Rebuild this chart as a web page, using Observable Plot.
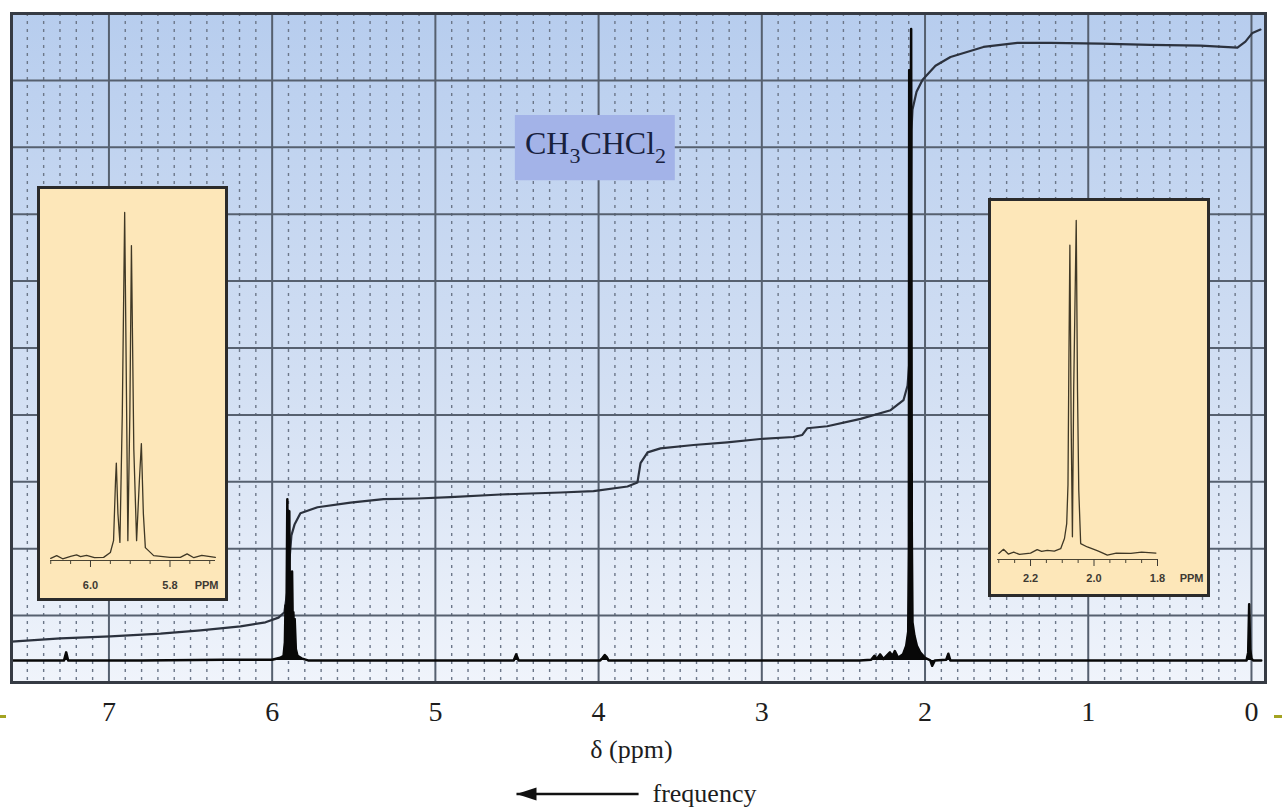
<!DOCTYPE html>
<html><head><meta charset="utf-8">
<script src="https://cdn.jsdelivr.net/npm/d3@7"></script>
<script src="https://cdn.jsdelivr.net/npm/@observablehq/plot@0.6"></script>
<style>
html,body{margin:0;padding:0;background:#ffffff;}
#wrap{position:relative;width:1282px;height:812px;overflow:hidden;}
#wrap > svg{position:absolute;left:0;top:0;}
.inset{position:absolute;background:#fde7b9;border:3px solid #2b2b2b;box-sizing:content-box;}
.inset svg{display:block;}
.olive{position:absolute;height:3px;background:#a3a321;}
</style></head><body><div id="wrap"></div>
<script>
// ---------- DATA ----------
const ppmTicks = [7, 6, 5, 4, 3, 2, 1, 0];
const gridY = [1, 2, 3, 4, 5, 6, 7, 8, 9];

// main 1H spectrum (δ ppm, intensity in grid units)
const spectrumBaseline = 0.33;
const spectrumPpm = [7.597, 7.40, 7.275, 7.262, 7.25, 6.80, 6.30, 6.00, 5.95, 5.93, 5.922, 5.918, 5.915, 5.912, 5.907, 5.903, 5.899, 5.895, 5.891, 5.887, 5.882, 5.878, 5.874, 5.870, 5.866, 5.862, 5.855, 5.845, 5.82, 5.78, 5.70, 4.52, 4.505, 4.49, 3.99, 3.975, 3.962, 3.95, 3.94, 2.40, 2.33, 2.31, 2.295, 2.275, 2.255, 2.215, 2.20, 2.185, 2.165, 2.135, 2.115, 2.103, 2.099, 2.097, 2.093, 2.089, 2.085, 2.081, 2.077, 2.065, 2.05, 2.03, 2.00, 1.968, 1.956, 1.94, 1.87, 1.857, 1.845, 1.00, 0.30, 0.03, 0.02, 0.014, 0.008, 0.0, -0.01, -0.06];
const spectrumIntensity = [0.33, 0.33, 0.33, 0.45, 0.33, 0.33, 0.34, 0.34, 0.37, 0.40, 0.6, 1.15, 0.75, 1.0, 2.74, 1.1, 1.3, 2.56, 1.1, 1.2, 1.0, 1.66, 0.9, 1.05, 0.7, 0.95, 0.5, 0.40, 0.36, 0.33, 0.33, 0.33, 0.42, 0.33, 0.33, 0.37, 0.41, 0.38, 0.33, 0.33, 0.34, 0.40, 0.35, 0.42, 0.35, 0.45, 0.39, 0.47, 0.37, 0.42, 0.55, 0.76, 2.0, 9.15, 6.0, 8.0, 9.77, 2.2, 0.9, 0.7, 0.55, 0.45, 0.37, 0.33, 0.25, 0.33, 0.34, 0.43, 0.33, 0.33, 0.33, 0.33, 0.45, 1.17, 0.5, 0.36, 0.33, 0.33];

// integration trace
const integralPpm = [7.597, 7.297, 6.991, 6.684, 6.439, 6.194, 6.041, 5.961, 5.925, 5.906, 5.894, 5.882, 5.863, 5.827, 5.722, 5.520, 5.318, 5.110, 4.908, 4.601, 4.233, 4.031, 3.823, 3.762, 3.743, 3.700, 3.621, 3.418, 3.212, 3.010, 2.807, 2.752, 2.722, 2.599, 2.395, 2.211, 2.132, 2.107, 2.095, 2.089, 2.083, 2.077, 2.052, 2.015, 1.936, 1.844, 1.642, 1.434, 1.231, 0.925, 0.619, 0.312, 0.086, 0.037, -0.006, -0.055];
const integralHeight = [0.61, 0.66, 0.69, 0.73, 0.78, 0.84, 0.90, 0.97, 1.05, 1.38, 1.83, 2.20, 2.36, 2.53, 2.62, 2.69, 2.74, 2.75, 2.77, 2.81, 2.84, 2.86, 2.93, 2.99, 3.28, 3.44, 3.50, 3.55, 3.59, 3.64, 3.67, 3.70, 3.80, 3.83, 3.94, 4.07, 4.22, 4.44, 4.82, 6.47, 8.26, 8.56, 8.83, 9.01, 9.22, 9.35, 9.50, 9.56, 9.56, 9.55, 9.53, 9.52, 9.49, 9.58, 9.71, 9.76];

// expanded multiplets (inset panels)
const insetAPpm = [6.100, 6.085, 6.07, 6.05, 6.035, 6.025, 6.01, 5.99, 5.967, 5.95, 5.942, 5.937, 5.935, 5.931, 5.926, 5.920, 5.914, 5.909, 5.906, 5.901, 5.897, 5.891, 5.884, 5.877, 5.872, 5.867, 5.862, 5.841, 5.80, 5.774, 5.757, 5.74, 5.72, 5.686];
const insetAIntensity = [0.6, 1.4, 0.5, 1.2, 1.6, 1.1, 1.5, 0.8, 0.9, 2.3, 5.7, 23, 28, 13.5, 5.2, 42, 100, 42, 5.7, 42, 90.5, 32, 5.7, 23, 33.6, 13.5, 3.7, 1.4, 0.9, 0.9, 1.9, 0.8, 1.5, 0.9];
const insetATicks = [6.0, 5.8];
const insetAMinor = [6.10, 6.05, 5.95, 5.90, 5.85, 5.75, 5.70];

const insetBPpm = [2.300, 2.285, 2.27, 2.253, 2.235, 2.20, 2.179, 2.165, 2.147, 2.125, 2.105, 2.093, 2.086, 2.082, 2.079, 2.076, 2.072, 2.068, 2.064, 2.056, 2.052, 2.048, 2.042, 2.021, 1.99, 1.979, 1.958, 1.93, 1.884, 1.85, 1.805];
const insetBIntensity = [1.8, 3.0, 1.6, 2.2, 1.5, 1.9, 2.9, 2.4, 2.7, 2.5, 3.2, 6.2, 10.6, 22, 60, 92.7, 40, 6.7, 50, 100, 50, 20.4, 4.7, 3.7, 2.6, 2.2, 1.3, 1.9, 1.8, 2.2, 1.9];
const insetBTicks = [2.2, 2.0, 1.8];
const insetBMinor = [2.30, 2.25, 2.15, 2.10, 2.05, 1.95, 1.90, 1.85];

// annotations
const chemLabel = [{text: "CH3CHCl2", x: 4.019, y: 8.06}];
const chemBox = [{x1: 4.51, x2: 3.53, y1: 7.50, y2: 8.475}];
const axisTitle = ["δ (ppm)"];
const directionLabel = ["frequency"];
const freqArrow = [{x1: 3.755, x2: 4.503, y: -1.665}];

// ---------- BUILD ----------
const serif = '"Liberation Serif", "Times New Roman", serif';
const sans = '"Liberation Sans", Arial, sans-serif';
const spectrum = spectrumPpm.map((p, i) => ({ppm: p, v: spectrumIntensity[i]}));
const integral = integralPpm.map((p, i) => ({ppm: p, v: integralHeight[i]}));
const insetA = insetAPpm.map((p, i) => ({ppm: p, v: insetAIntensity[i]}));
const insetB = insetBPpm.map((p, i) => ({ppm: p, v: insetBIntensity[i]}));
const minorTicks = d3.range(-0.05, 7.6, 0.1).map(d => Math.round(d * 10) / 10).filter(d => d > -0.08 && d < 7.59 && Math.abs(d - Math.round(d)) > 1e-6);

const arrowHead = {draw(ctx) { ctx.moveTo(0, 0); ctx.lineTo(20, -6.5); ctx.lineTo(20, 6.5); ctx.closePath(); }};

const main = Plot.plot({
  width: 1282, height: 812,
  marginLeft: 11, marginRight: 17, marginTop: 13, marginBottom: 130,
  style: {background: "transparent", fontFamily: serif, overflow: "visible"},
  x: {domain: [7.597, -0.086], label: null},
  y: {domain: [0, 10], axis: null},
  marks: [
    Plot.frame({fill: "url(#bgGrad)", stroke: "none"}),
    Plot.ruleX(minorTicks, {stroke: "#6c7789", strokeWidth: 1.4, strokeDasharray: "3,5"}),
    Plot.ruleX(ppmTicks, {stroke: "#56606f", strokeWidth: 2}),
    Plot.ruleY(gridY, {stroke: "#56606f", strokeWidth: 2}),
    Plot.rect(chemBox, {x1: "x1", x2: "x2", y1: "y1", y2: "y2", fill: "#a3b3e8"}),
    Plot.text(chemLabel, {x: "x", y: "y", text: "text", fontSize: 32, fill: "#18213e", fontFamily: serif}),
    Plot.line(integral, {x: "ppm", y: "v", stroke: "#2c323e", strokeWidth: 2.2}),
    Plot.areaY(spectrum, {x: "ppm", y1: spectrumBaseline, y2: "v", fill: "#080808"}),
    Plot.line(spectrum, {x: "ppm", y: "v", stroke: "#080808", strokeWidth: 2.5}),
    Plot.frame({stroke: "#363b44", strokeWidth: 3}),
    Plot.axisX(ppmTicks, {tickSize: 0, tickPadding: 19, fontSize: 28, color: "#1d1d1d", tickFormat: d => String(d), label: null}),
    Plot.text(axisTitle, {frameAnchor: "bottom", lineAnchor: "middle", text: d => d, dx: -7, dy: 66.7, fontSize: 26, fill: "#1d1d1d"}),
    Plot.text(directionLabel, {frameAnchor: "bottom", lineAnchor: "middle", text: d => d, textAnchor: "start", dx: 14, dy: 110.7, fontSize: 26, fill: "#1d1d1d"}),
    Plot.link(freqArrow, {x1: "x1", x2: "x2", y1: "y", y2: "y", stroke: "#111", strokeWidth: 2.5}),
    Plot.dot(freqArrow, {x: "x2", y: "y", symbol: arrowHead, fill: "#111", stroke: "none", r: 6})
  ]
});

d3.select(main).insert("defs", ":first-child").html(
  '<linearGradient id="bgGrad" x1="0" y1="0" x2="0" y2="1">' +
  '<stop offset="0" stop-color="#b7cdee"/>' +
  '<stop offset="0.55" stop-color="#d2dff3"/>' +
  '<stop offset="1" stop-color="#f0f4fb"/>' +
  '</linearGradient>');

// subscripts in the formula label
d3.select(main).selectAll("text").filter(function() { return this.textContent === "CH3CHCl2"; }).each(function() {
  const t = d3.select(this);
  t.text(null);
  const parts = [["CH", 0], ["3", 1], ["CHCl", 0], ["2", 1]];
  let shifted = false;
  parts.forEach(([s, sub]) => {
    const ts = t.append("tspan").text(s);
    if (sub) { ts.attr("dy", 9).attr("font-size", 22); shifted = true; }
    else if (shifted) { ts.attr("dy", -9); shifted = false; }
  });
});

const wrap = document.getElementById("wrap");
wrap.appendChild(main);

function makeInset(data, domain, ticks, minor, opts) {
  const col = "#4a4433";
  return Plot.plot({
    width: opts.w, height: opts.h,
    marginLeft: opts.ml, marginRight: opts.mr, marginTop: opts.mt, marginBottom: opts.mb,
    style: {background: "transparent", fontFamily: sans, overflow: "visible"},
    x: {domain, label: null},
    y: {domain: [0, 100], axis: null},
    marks: [
      Plot.ruleY([0], {stroke: col, strokeWidth: 1}),
      Plot.axisX(minor, {tickSize: 4, tickFormat: () => "", color: col, label: null}),
      Plot.axisX(ticks, {tickSize: 7, tickPadding: opts.pad, tickFormat: ".1f", fontSize: 11, fontWeight: "bold", color: "#3d3a33", label: null}),
      Plot.text(["PPM"], {frameAnchor: "bottom-right", lineAnchor: "middle", text: d => d, textAnchor: "end", dx: opts.pdx, dy: opts.pdy, fontSize: 11, fontWeight: "bold", fill: "#3d3a33"}),
      Plot.line(data, {x: "ppm", y: "v", stroke: "#3f3826", strokeWidth: 1.3})
    ]
  });
}

const boxA = document.createElement("div");
boxA.className = "inset";
Object.assign(boxA.style, {left: "37px", top: "186px", width: "185px", height: "409px"});
boxA.appendChild(makeInset(insetA, [6.1006, 5.6855], insetATicks, insetAMinor,
  {w: 185, h: 409, ml: 10, mr: 10, mt: 23, mb: 38, pad: 14, pdx: 3, pdy: 25}));
wrap.appendChild(boxA);

const boxB = document.createElement("div");
boxB.className = "inset";
Object.assign(boxB.style, {left: "988px", top: "198px", width: "216px", height: "393px"});
boxB.appendChild(makeInset(insetB, [2.304, 1.8], insetBTicks, insetBMinor,
  {w: 216, h: 393, ml: 6, mr: 50, mt: 19, mb: 35, pad: 8, pdx: 46, pdy: 19}));
wrap.appendChild(boxB);

// slide edge fragments
[[0, 715, 6], [1274, 715, 8]].forEach(([l, t, w]) => {
  const d = document.createElement("div");
  d.className = "olive";
  Object.assign(d.style, {left: l + "px", top: t + "px", width: w + "px"});
  wrap.appendChild(d);
});
</script></body></html>
